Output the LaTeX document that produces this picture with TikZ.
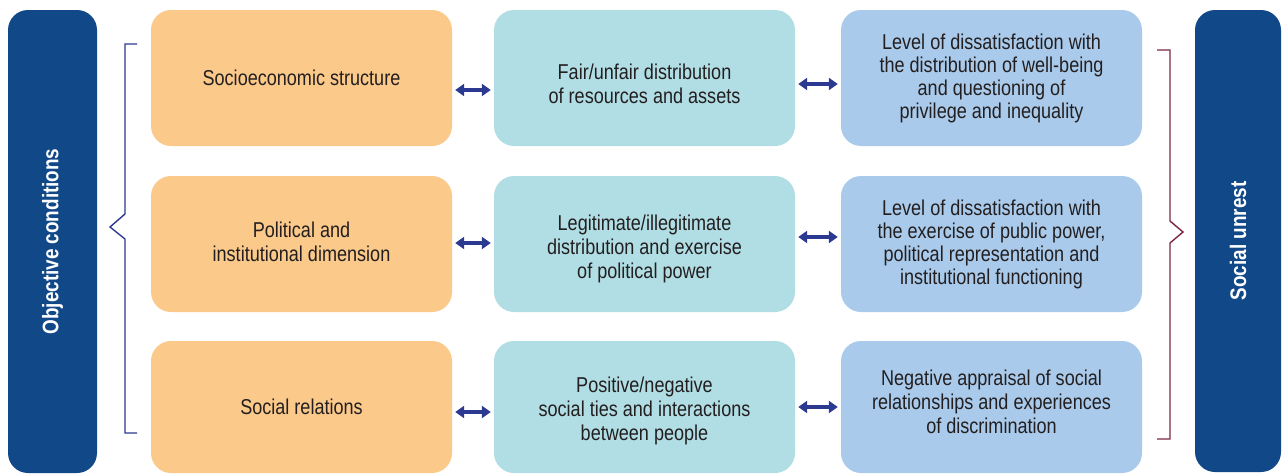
\documentclass[tikz,border=0pt]{standalone}
\usepackage{fontspec}
\setmainfont{Liberation Sans}[FakeStretch=0.84]
\usetikzlibrary{arrows.meta}
\definecolor{orng}{HTML}{FBC98A}
\definecolor{teal}{HTML}{B1DEE4}
\definecolor{lblue}{HTML}{A9CAEA}
\definecolor{dblue}{HTML}{114887}
\definecolor{arrblue}{HTML}{2B3990}
\definecolor{maroon}{HTML}{7D2645}
\definecolor{txt}{HTML}{231F20}
\newcommand{\shiftedtext}[2]{\raisebox{#1}[\height][\depth]{\begin{tabular}{@{}c@{}}#2\end{tabular}}}
\tikzset{
  box/.style={rounded corners=20pt, minimum width=301pt, minimum height=136pt, inner sep=0pt, align=center, text=txt, font=\fontsize{21.5}{23}\selectfont},
  obox/.style={box, fill=orng},
  tbox/.style={box, fill=teal},
  bbox/.style={box, fill=lblue},
  bar/.style={rounded corners=20pt, fill=dblue, inner sep=0pt},
  barlabel/.style={text=white, font=\fontsize{22.5}{24}\selectfont\bfseries, rotate=90},
  biarrow/.style={{Triangle[width=12pt,length=9pt]}-{Triangle[width=12pt,length=9pt]}, line width=3.5pt, draw=arrblue, shorten <=3pt, shorten >=3pt},
  brk/.style={line width=1.4pt}
}
\begin{document}
\begin{tikzpicture}[x=1pt,y=-1pt]
\useasboundingbox (0,0) rectangle (1282,474);
% side bars
\node[bar, minimum width=89pt, minimum height=463pt] (left) at (52.5,241.5) {};
\node[barlabel] (leftlab) at (left.center) {Objective conditions};
\node[bar, minimum width=86pt, minimum height=462pt] (right) at (1238,241) {};
\node[barlabel] (rightlab) at (right.center) {Social unrest};
% row 1
\node[obox] (o1) at (301.5,78) {Socioeconomic structure};
\node[tbox] (t1) at (644.5,78) {\shiftedtext{-9pt}{Fair/unfair distribution\\[1pt]of resources and assets}};
\node[bbox] (b1) at (991.5,78) {\shiftedtext{-1.5pt}{Level of dissatisfaction with\\the distribution of well-being\\and questioning of\\privilege and inequality}};
% row 2
\node[obox] (o2) at (301.5,244) {\shiftedtext{-0.5pt}{Political and\\[1pt]institutional dimension}};
\node[tbox] (t2) at (644.5,244) {\shiftedtext{-6pt}{Legitimate/illegitimate\\[1pt]distribution and exercise\\[1pt]of political power}};
\node[bbox] (b2) at (991.5,244) {Level of dissatisfaction with\\the exercise of public power,\\political representation and\\institutional functioning};
% row 3
\node[obox, minimum height=132pt] (o3) at (301.5,407) {Social relations};
\node[tbox, minimum height=132pt] (t3) at (644.5,407) {\shiftedtext{-4.5pt}{Positive/negative\\[1pt]social ties and interactions\\[1pt]between people}};
\node[bbox, minimum height=132pt] (b3) at (991.5,407) {\shiftedtext{2pt}{Negative appraisal of social\\[1pt]relationships and experiences\\[1pt]of discrimination}};
% arrows
\draw[biarrow] ([yshift=-12pt]o1.east) -- ([yshift=-12pt]t1.west);
\draw[biarrow] ([yshift=-6pt]t1.east) -- ([yshift=-6pt]b1.west);
\draw[biarrow] ([yshift=1pt]o2.east) -- ([yshift=1pt]t2.west);
\draw[biarrow] ([yshift=7pt]t2.east) -- ([yshift=7pt]b2.west);
\draw[biarrow] ([yshift=-5pt]o3.east) -- ([yshift=-5pt]t3.west);
\draw[biarrow] (t3.east) -- (b3.west);
% brackets
\draw[brk, draw=arrblue] (137,44) -- (125,44) -- (125,214) -- (110,227) -- (125,239) -- (125,433) -- (137,433);
\draw[brk, draw=maroon] (1157,50) -- (1170,50) -- (1170,221) -- (1183,232) -- (1170,243) -- (1170,439) -- (1157,439);
\end{tikzpicture}
\end{document}
